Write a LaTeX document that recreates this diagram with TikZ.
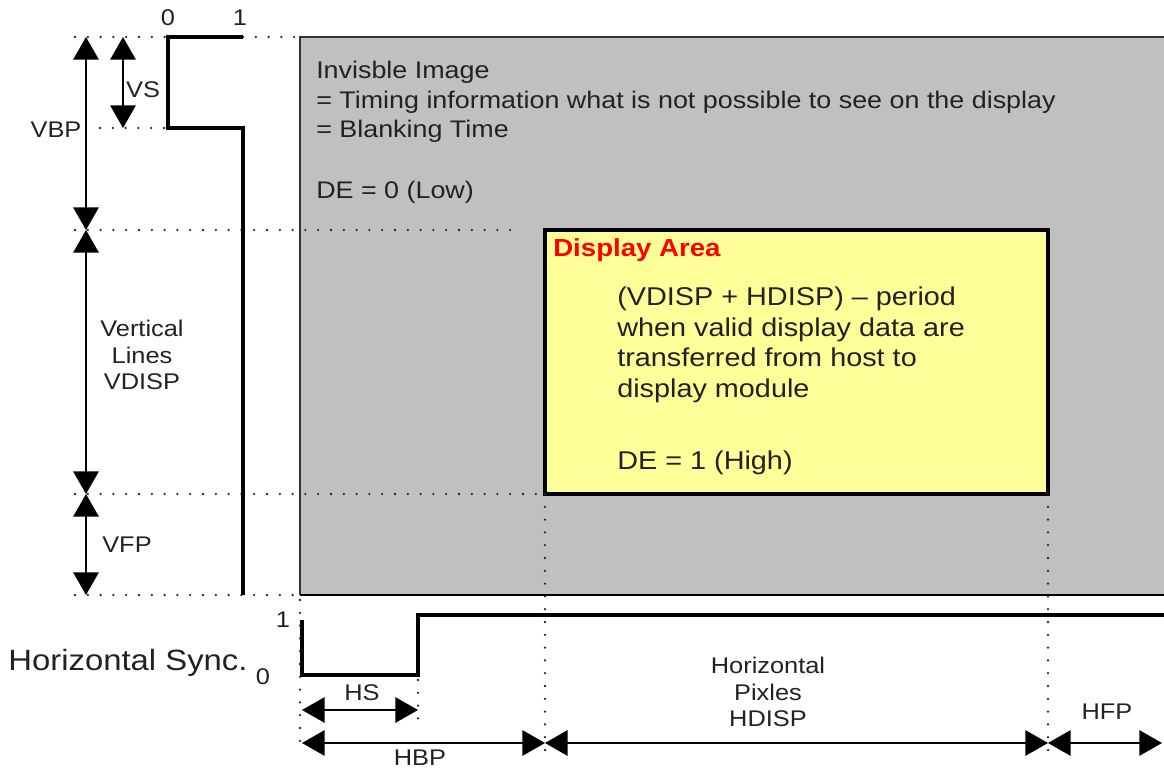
\documentclass[tikz,border=0pt]{standalone}
\usepackage{fontspec}
\setmainfont[FakeStretch=1.12]{Liberation Sans}
\usetikzlibrary{arrows.meta}
\definecolor{blank}{HTML}{C0C0C0}
\definecolor{disp}{HTML}{FFFF99}
\definecolor{dred}{HTML}{FF0000}
\definecolor{ink}{HTML}{222222}
\begin{document}
\begin{tikzpicture}[x=0.75pt,y=-0.75pt,
  tip/.tip={Triangle[length=17pt,width=19pt]},
  dim/.style={tip-tip, line width=1.6pt, draw=black},
  sig/.style={line width=3.6pt, line join=miter, line cap=butt},
  guide/.style={line width=1.9pt, dash pattern=on 0pt off 9.6pt, line cap=round, draw=black!85},
  lbl/.style={font=\fontsize{17}{20}\selectfont, inner sep=0pt, align=center, text=ink},
  gtxt/.style={font=\fontsize{18}{22}\selectfont, inner sep=0pt, align=left, text=ink, anchor=west},
  ytxt/.style={font=\fontsize{19.3}{23}\selectfont, inner sep=0pt, align=left, text=ink, anchor=west},
]
\useasboundingbox (0,0) rectangle (1164,770);
% blanking area
\fill[blank] (300,37) rectangle (1164,595);
\draw[line width=1.3pt, draw=black!80] (1164,37) -- (300,37) -- (300,595);
\draw[line width=2.2pt] (300,595) -- (1164,595);
% display area
\draw[fill=disp, line width=2.8pt] (545,230) rectangle (1048,494);
\node[anchor=west, inner sep=0pt, text=dred, font=\bfseries\fontsize{18.5}{22}\selectfont] (da) at (553,250) {Display Area};
\node[ytxt] (dtxt) at (617,345) {(VDISP + HDISP) -- period\\when valid display data are\\transferred from host to\\display module};
\node[ytxt] (de1) at (617,463) {DE = 1 (High)};
% gray text
\node[gtxt] (inv) at (316,102) {Invisble Image\\= Timing information what is not possible to see on the display\\= Blanking Time};
\node[gtxt] (de0) at (316,192) {DE = 0 (Low)};
% guides
\coordinate (g1a) at (75,37); \coordinate (g1b) at (168,37);
\coordinate (g2a) at (243,37); \coordinate (g2b) at (300,37);
\coordinate (g3a) at (100,128); \coordinate (g3b) at (168,128);
\coordinate (g4a) at (75,230); \coordinate (g4b) at (520,230);
\coordinate (g5a) at (75,494); \coordinate (g5b) at (545,494);
\coordinate (g6a) at (75,595); \coordinate (g6b) at (300,595);
\coordinate (g7a) at (300,600); \coordinate (g7b) at (300,752);
\coordinate (g8a) at (418,680); \coordinate (g8b) at (418,725);
\coordinate (g9a) at (545,494); \coordinate (g9b) at (545,755);
\coordinate (g10a) at (1048,494); \coordinate (g10b) at (1048,755);
\foreach \g in {1,...,10} \draw[guide] (g\g a) -- (g\g b);
% vertical sync
\draw[sig] (243,37) -- (168,37) -- (168,128) -- (243,128) -- (243,595);
\node[lbl] (v0) at (168,18) {0};
\node[lbl] (v1) at (240,18) {1};
% horizontal sync
\draw[sig, line width=3.2pt] (302,620) -- (302,675) -- (418,675) -- (418,615) -- (1164,615);
\node[lbl] (h1l) at (283,620) {1};
\node[lbl] (h0l) at (263,677) {0};
\node[inner sep=0pt, text=ink, font=\fontsize{22}{25}\selectfont] (hsync) at (128,663) {Horizontal Sync.};
% vertical dimensions
\coordinate (vt) at (86,37); \coordinate (vm) at (86,230);
\coordinate (vd) at (86,494); \coordinate (vb) at (86,595);
\coordinate (vs1) at (123,37); \coordinate (vs2) at (123,128);
\draw[dim] (vt) -- (vm);
\draw[dim] (vm) -- (vd);
\draw[dim] (vd) -- (vb);
\draw[dim] (vs1) -- (vs2);
\node[lbl] (vbp) at (56,130) {VBP};
\node[lbl] (vs) at (143,90) {VS};
\node[lbl] (vdisp) at (142,355) {Vertical\\Lines\\VDISP};
\node[lbl] (vfp) at (127,545) {VFP};
% horizontal dimensions
\coordinate (hs1) at (302,710); \coordinate (hs2) at (418,710);
\coordinate (ha) at (302,743); \coordinate (hb) at (545,743);
\coordinate (hc) at (1048,743); \coordinate (hd) at (1162,743);
\draw[dim] (hs1) -- (hs2);
\draw[dim] (ha) -- (hb);
\draw[dim] (hb) -- (hc);
\draw[dim] (hc) -- (hd);
\node[lbl] (hsl) at (362,693) {HS};
\node[lbl] (hbp) at (420,758) {HBP};
\node[lbl] (hdisp) at (768,692) {Horizontal\\Pixles\\HDISP};
\node[lbl] (hfp) at (1107,712) {HFP};
\end{tikzpicture}
\end{document}
